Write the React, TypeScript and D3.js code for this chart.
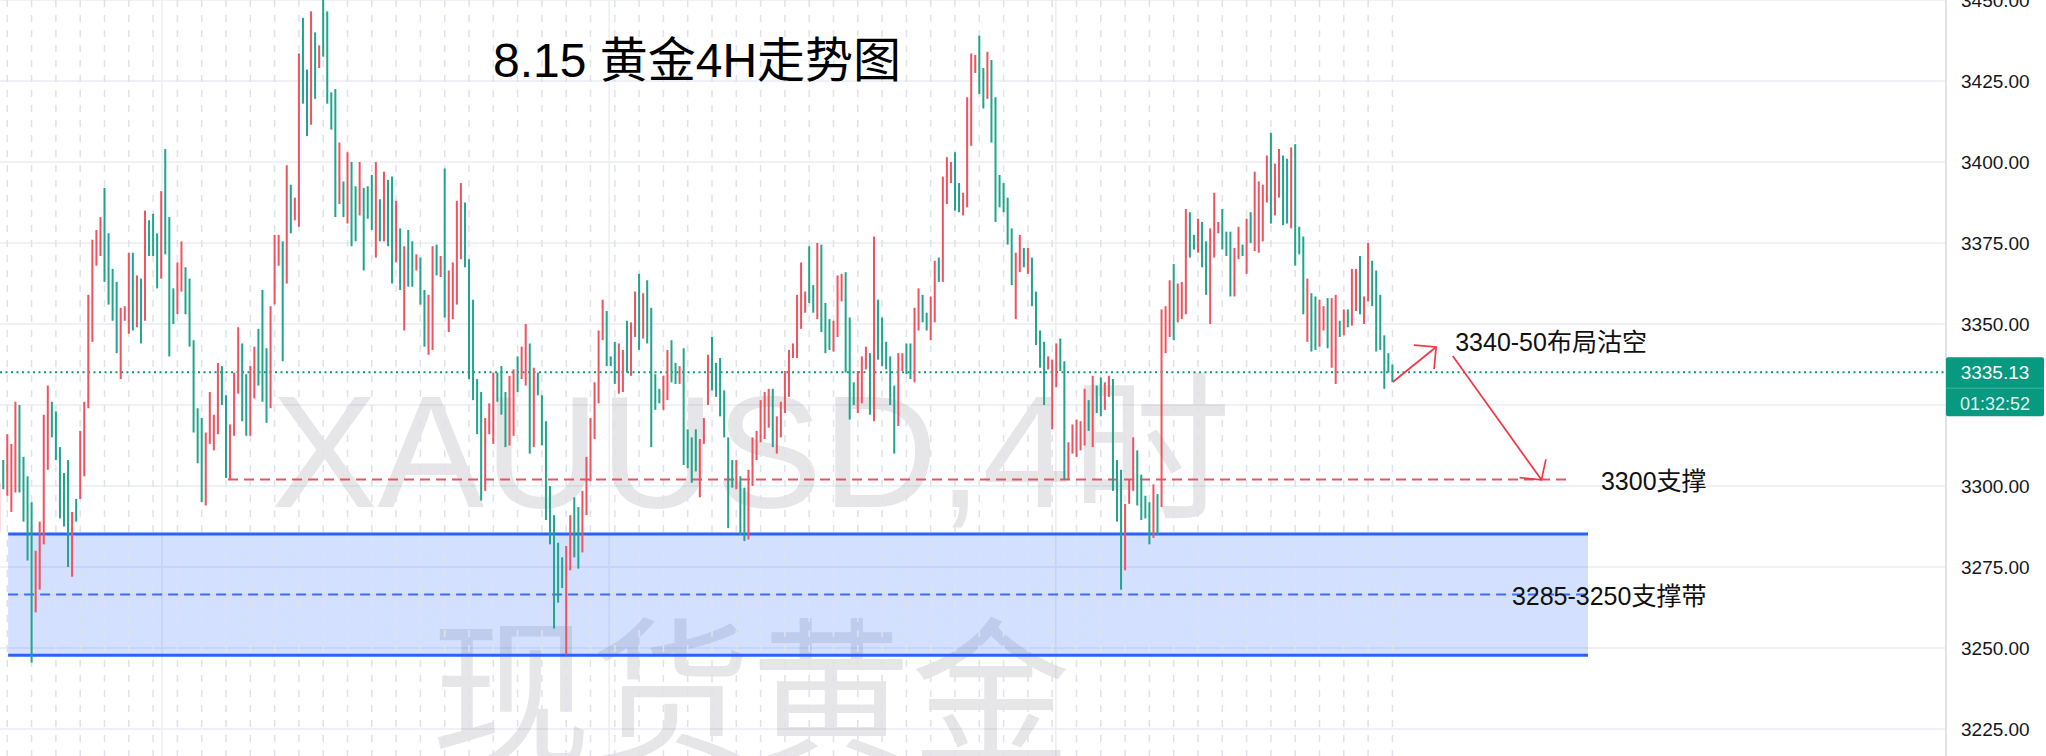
import React from 'react';
import * as d3 from 'd3';

const W = 2046;
const H = 756;
const AXIS_X = 1946;

// ---- candle data (4H bars, oldest -> newest) ----
const highs = [
  3301, 3308, 3316, 3313, 3326, 3325, 3309, 3303, 3295, 3280,
  3289, 3322, 3331, 3326, 3323, 3312, 3304, 3308, 3292, 3296,
  3317, 3326, 3359, 3376, 3379, 3383, 3392, 3378, 3367, 3363,
  3355, 3355.5, 3372, 3372, 3365, 3364, 3385, 3382, 3384, 3378,
  3391, 3404, 3383, 3361, 3369, 3375.5, 3367.5, 3364, 3345, 3324,
  3321, 3316.5, 3329, 3322, 3338, 3337, 3328, 3319, 3335, 3349,
  3344, 3334.5, 3337, 3343, 3348.5, 3360.5, 3342.5, 3355.5, 3377.5, 3377.5,
  3375.5, 3399, 3393, 3389, 3433.5, 3444.5, 3428.5, 3446.5, 3440, 3436,
  3451, 3446.5, 3421.5, 3422.5, 3406, 3394, 3403, 3400, 3392.5, 3400,
  3392, 3392.5, 3396, 3400, 3388.5, 3397, 3394.5, 3395.5, 3388, 3379.5,
  3374, 3379, 3375.5, 3371.5, 3370.5, 3360.5, 3359, 3374, 3374.5, 3371,
  3398, 3366.5, 3369, 3388, 3393.5, 3387.5, 3370, 3357.5, 3333, 3329,
  3321, 3325.5, 3335, 3335, 3337, 3329, 3334, 3336, 3340, 3343,
  3350, 3344, 3336.5, 3335, 3328, 3320, 3300, 3291, 3282.5, 3278,
  3281.5, 3291, 3296.5, 3293.5, 3298.5, 3309, 3321, 3332, 3348, 3357.5,
  3354, 3340, 3344.5, 3344, 3342, 3351, 3350.5, 3360, 3365.5, 3359.5,
  3363.5, 3355, 3334.5, 3330, 3334, 3342, 3345, 3338, 3337, 3342.5,
  3317.5, 3315, 3317.5, 3314.5, 3321, 3340.5, 3346, 3338, 3339.5, 3329.5,
  3315, 3308, 3308, 3303, 3299.5, 3305, 3315, 3317, 3326.5, 3329,
  3330, 3330, 3321.5, 3326, 3335.5, 3342, 3344, 3359, 3369, 3360,
  3374, 3362, 3375, 3374.5, 3356.5, 3351.5, 3351, 3365, 3365.5, 3366,
  3352, 3332, 3335.5, 3340, 3343, 3341, 3377, 3357.5, 3352, 3344.5,
  3340, 3331, 3341, 3341, 3344, 3344, 3355, 3361, 3359, 3353.5,
  3358.5, 3369.5, 3370.5, 3395.5, 3401.5, 3400, 3403, 3393.5, 3390.5, 3420,
  3433.5, 3433, 3439, 3429, 3434, 3431.5, 3420, 3396, 3393.5, 3389,
  3379.5, 3372, 3377.5, 3373.5, 3373.5, 3370.5, 3360, 3348, 3344.5, 3340,
  3339, 3344, 3345.5, 3338.5, 3313.5, 3319, 3320.5, 3320, 3330, 3326.5,
  3334, 3331, 3333.5, 3332, 3334, 3333, 3308, 3305, 3294.5, 3302,
  3315, 3311, 3303.5, 3297, 3295, 3300.5, 3297.5, 3354.5, 3355.5, 3363.5,
  3368.5, 3362.5, 3363, 3385.5, 3384.5, 3377.5, 3382.5, 3381.5, 3375.5, 3379.5,
  3390.5, 3381.5, 3385.5, 3378.5, 3378.5, 3373.5, 3380, 3374.5, 3382.5, 3384.5,
  3397, 3394, 3393, 3402, 3409, 3399.5, 3404, 3402, 3401, 3404.5,
  3405.5, 3380, 3377, 3364, 3359.5, 3358.5, 3357.5, 3355.5, 3358, 3358,
  3359, 3351, 3354.5, 3354.5, 3367, 3367, 3371, 3358.5, 3375, 3369.5,
  3366.5, 3359, 3346.5, 3341, 3337.5,
];

const lows = [
  3286, 3299, 3297, 3292, 3298, 3298, 3289, 3277, 3245.5, 3261,
  3268, 3282, 3305, 3315, 3308, 3290, 3287.5, 3275, 3272, 3289,
  3296, 3303, 3324, 3344.5, 3368, 3371, 3363, 3356, 3351, 3341,
  3333, 3351, 3347, 3348, 3349, 3344, 3351, 3371, 3371, 3361,
  3364, 3371.5, 3340, 3350, 3353, 3360, 3353, 3343, 3316.5, 3307,
  3295, 3294, 3313, 3311, 3316, 3325, 3302.5, 3302, 3315.5, 3328.5,
  3320, 3315.5, 3315.5, 3327, 3331, 3326, 3319.5, 3324, 3356, 3368,
  3338.5, 3362.5, 3378, 3382, 3380, 3418, 3408, 3411.5, 3419.5, 3429,
  3432.5, 3418, 3410, 3383, 3387, 3383, 3381, 3374, 3375.5, 3383.5,
  3366.5, 3382.5, 3379, 3370.5, 3375.5, 3375.5, 3374, 3362.5, 3369, 3360.5,
  3348, 3361.5, 3361.5, 3366.5, 3356, 3343, 3340.5, 3342, 3365, 3364.5,
  3352, 3347.5, 3351.5, 3356, 3370, 3367.5, 3333, 3326.5, 3316, 3295.5,
  3298.5, 3316, 3313, 3326, 3322, 3312, 3312.5, 3315.5, 3329, 3333,
  3331, 3310, 3312, 3328, 3312.5, 3289.5, 3282, 3256, 3264, 3268.5,
  3248, 3274, 3278, 3274.5, 3279.5, 3291, 3301.5, 3314.5, 3325.5, 3345,
  3337, 3337, 3331.5, 3328.5, 3329, 3335, 3334, 3346, 3342, 3345.5,
  3344, 3312, 3323.5, 3325.5, 3323.5, 3326.5, 3332, 3331.5, 3331.5, 3306.5,
  3305.5, 3301, 3304.5, 3296.5, 3313, 3325, 3329.5, 3327.5, 3321.5, 3315,
  3287, 3299.5, 3299, 3285, 3283, 3283.5, 3300, 3308, 3313.5, 3314.5,
  3318, 3312, 3310, 3315, 3322.5, 3327.5, 3339.5, 3339.5, 3348.5, 3353.5,
  3356.5, 3353.5, 3351.5, 3347.5, 3341, 3342, 3341.5, 3346, 3357, 3335,
  3320.5, 3325, 3322.5, 3325.5, 3336, 3322, 3320, 3339, 3337, 3336,
  3325, 3310, 3318.5, 3335.5, 3334.5, 3333, 3332, 3348, 3350.5, 3348,
  3345, 3350.5, 3363, 3363, 3387, 3393.5, 3385, 3384.5, 3383.5, 3386,
  3405, 3427.5, 3421, 3416.5, 3419.5, 3406, 3381.5, 3386, 3384.5, 3374.5,
  3362, 3351.5, 3366, 3367.5, 3365.5, 3355.5, 3343.5, 3336.5, 3325, 3336,
  3317.5, 3330.5, 3335.5, 3302, 3302, 3310, 3309, 3311, 3312.5, 3317,
  3312, 3322.5, 3321.5, 3323.5, 3327.5, 3298.5, 3289, 3268, 3274, 3294.5,
  3298.5, 3294, 3289.5, 3290, 3282, 3284, 3285, 3293.5, 3341, 3346,
  3345, 3350.5, 3351.5, 3353, 3370.5, 3373, 3372, 3367.5, 3359, 3350,
  3370.5, 3378, 3373, 3371, 3358.5, 3358.5, 3370, 3371, 3365.5, 3375,
  3372.5, 3372, 3375.5, 3387.5, 3381, 3383.5, 3389, 3380.5, 3381, 3379.5,
  3368, 3371.5, 3353, 3344.5, 3341.5, 3342, 3343, 3348, 3342.5, 3336.5,
  3331.5, 3346, 3346.5, 3349, 3349.5, 3354, 3353, 3350, 3357, 3355.5,
  3341.5, 3342, 3330, 3335, 3332,
];

// 'u' = rising bar (red), 'd' = falling bar (green)
const directions = [
  'u','d','u','u','u','d','d','d','d','u',
  'u','u','u','d','d','d','d','d','u','d',
  'u','u','u','u','u','u','d','d','d','d',
  'u','u','u','d','u','d','u','d','d','d',
  'u','d','d','d','u','u','d','d','d','d',
  'd','u','u','u','u','d','d','u','u','u',
  'd','d','u','u','d','d','d','u','u','u',
  'd','u','d','u','u','d','d','u','d','u',
  'd','d','d','d','u','d','u','d','d','u',
  'd','d','d','u','d','u','d','d','u','d',
  'u','d','d','u','d','d','u','u','d','u',
  'd','u','u','u','u','d','d','d','d','d',
  'u','u','u','d','d','d','u','u','d','u',
  'u','d','u','d','d','d','d','d','d','d',
  'u','u','d','d','u','u','u','u','u','u',
  'd','d','d','u','u','d','u','u','d','u',
  'd','d','d','d','u','u','d','d','u','d',
  'd','d','d','u','u','u','d','d','d','d',
  'd','d','u','d','d','u','u','u','u','u',
  'u','d','u','u','u','u','u','u','u','u',
  'd','d','u','d','d','d','u','u','u','d',
  'd','d','u','u','u','d','u','d','d','d',
  'd','d','u','u','d','d','u','u','d','d',
  'u','u','d','u','u','u','d','d','u','u',
  'u','u','d','d','u','d','d','d','d','d',
  'd','u','u','d','u','d','d','d','d','u',
  'u','u','d','d','u','u','u','u','u','d',
  'u','d','d','u','u','d','d','d','u','u',
  'u','d','d','d','d','u','d','u','u','u',
  'd','u','u','u','d','d','u','d','d','u',
  'u','u','d','d','d','u','u','d','u','d',
  'u','u','u','u','d','u','u','d','d','u',
  'd','d','d','u','d','d','u','u','d','u',
  'u','d','u','d','u','u','d','u','u','d',
  'd','d','d','d','d',
];

// ---- axis / annotation values ----
const priceTicks = [3450, 3425, 3400, 3375, 3350, 3325, 3300, 3275, 3250, 3225];
const lastPrice = 3335.13;
const countdown = '01:32:52';
const sessionFirstBar = 2;
const barsPerSession = 6;
const timeGridBars = [40.2, 150.6, 260.9];

const supportPrice = 3302;
const supportFromBar = 56.5;
const supportToBar = 388.1;

const zoneTop = 3285.2;
const zoneBottom = 3247.8;
const zoneFromBar = 2.2;
const zoneToBar = 392.3;

const arrowUp = { from: [344.1, 3332.1], to: [354.8, 3342.9], barbs: [[349.3, 3343.5], [354.3, 3336.1]] };
const arrowDown = { from: [358.9, 3340.1], to: [380.8, 3301.9], barbs: [[381.9, 3308.2], [375.4, 3302.6]] };

const notes = [
  { text: '3340-50布局沽空', bar: 359.5, price: 3341.7 },
  { text: '3300支撑', bar: 395.5, price: 3298.8 },
  { text: '3285-3250支撑带', bar: 373.5, price: 3263.3 },
];

const title = '8.15 黄金4H走势图';
const watermark1 = 'XAUUSD,4时';
const watermark2 = '现货黄金';

const UP = '#f0525f';
const DOWN = '#1fa58b';
const TEAL = '#089981';
const RED = '#f23645';
const BLUE = '#2962ff';

export default function App() {
  const n = highs.length;
  const x = d3.scaleLinear().domain([0, n - 1]).range([-0.8, -0.8 + 4.05 * (n - 1)]);
  const y = d3.scaleLinear().domain([3225, 3450]).range([729, 0]);

  const sessionBars: number[] = [];
  for (let i = sessionFirstBar; i < n; i += barsPerSession) sessionBars.push(i);

  const latin = "'Liberation Sans', 'Noto Sans CJK SC', sans-serif";
  const line = d3.line<number[]>().x((d) => x(d[0])).y((d) => y(d[1]));

  const lastY = y(lastPrice);
  const zoneMid = (zoneTop + zoneBottom) / 2;

  return (
    <svg
      width={W}
      height={H}
      viewBox={`0 0 ${W} ${H}`}
      style={{ position: 'fixed', left: 0, top: 0, display: 'block', background: '#fff' }}
    >
      <defs>
        <clipPath id="plot">
          <rect x={0} y={0} width={AXIS_X} height={H} />
        </clipPath>
      </defs>
      <rect x={0} y={0} width={W} height={H} fill="#fff" />
      <g clipPath="url(#plot)">
        {priceTicks.map((p) => (
          <line key={p} x1={0} x2={AXIS_X} y1={y(p)} y2={y(p)} stroke="#eff1f6" strokeWidth={2} />
        ))}
        {timeGridBars.map((b) => (
          <line key={b} x1={x(b)} x2={x(b)} y1={0} y2={H} stroke="#eceef3" strokeWidth={1.5} />
        ))}
        <text x={751} y={507} textAnchor="middle" fontSize={160} fontFamily={latin} fill="rgba(120,123,134,0.19)">
          {watermark1}
        </text>
        <text x={751} y={753} textAnchor="middle" fontSize={160} fontFamily="'Noto Sans CJK SC', sans-serif" fill="rgba(120,123,134,0.19)">
          {watermark2}
        </text>
        <rect
          x={x(zoneFromBar)}
          y={y(zoneTop)}
          width={x(zoneToBar) - x(zoneFromBar)}
          height={y(zoneBottom) - y(zoneTop)}
          fill="rgba(41,98,255,0.2)"
        />
        {sessionBars.map((b) => (
          <line key={b} x1={x(b)} x2={x(b)} y1={0} y2={H} stroke="#dfe2ea" strokeWidth={1.5} strokeDasharray="7 8" />
        ))}
        <line x1={x(zoneFromBar)} x2={x(zoneToBar)} y1={y(zoneTop)} y2={y(zoneTop)} stroke={BLUE} strokeWidth={3} />
        <line x1={x(zoneFromBar)} x2={x(zoneToBar)} y1={y(zoneBottom)} y2={y(zoneBottom)} stroke={BLUE} strokeWidth={3} />
        <line
          x1={x(zoneFromBar)}
          x2={x(zoneToBar)}
          y1={y(zoneMid)}
          y2={y(zoneMid)}
          stroke="#3b6ff5"
          strokeWidth={2}
          strokeDasharray="10 6"
        />
        <line
          x1={x(supportFromBar)}
          x2={x(supportToBar)}
          y1={y(supportPrice)}
          y2={y(supportPrice)}
          stroke="#f0505e"
          strokeWidth={2}
          strokeDasharray="10 6"
        />
        <line x1={0} x2={AXIS_X} y1={lastY} y2={lastY} stroke={TEAL} strokeWidth={2} strokeDasharray="2 3.5" />
        {highs.map((h, i) => {
          const top = y(h);
          const bot = y(lows[i]);
          return (
            <rect
              key={i}
              x={x(i) - 1}
              y={top}
              width={2}
              height={Math.max(1, bot - top)}
              fill={directions[i] === 'u' ? UP : DOWN}
            />
          );
        })}
        {[arrowUp, arrowDown].map((a, k) => (
          <g key={k} stroke={RED} strokeWidth={1.7} fill="none">
            <path d={line([a.from, a.to]) || ''} />
            <path d={line([a.barbs[0], a.to, a.barbs[1]]) || ''} />
          </g>
        ))}
        {notes.map((t) => (
          <text key={t.text} x={x(t.bar)} y={y(t.price)} fontSize={25} fontFamily={latin} fill="#111">
            {t.text}
          </text>
        ))}
        <text x={493} y={77} fontSize={48} fontFamily={latin} fill="#000">
          {title}
        </text>
      </g>
      <rect x={AXIS_X} y={0} width={W - AXIS_X} height={H} fill="#fff" />
      <line x1={AXIS_X} x2={AXIS_X} y1={0} y2={H} stroke="#e0e3eb" strokeWidth={2} />
      {priceTicks
        .filter((p) => Math.abs(y(p) - lastY) > 40)
        .map((p) => (
          <text key={p} x={1961} y={y(p) + 7} fontSize={19} fontFamily={latin} fill="#131722">
            {d3.format('.2f')(p)}
          </text>
        ))}
      <rect x={AXIS_X} y={lastY - 15} width={98} height={59} fill={TEAL} rx={2} />
      <line x1={AXIS_X} x2={AXIS_X + 98} y1={lastY + 16} y2={lastY + 16} stroke="rgba(255,255,255,0.25)" strokeWidth={1} />
      <text x={1995} y={lastY + 7} textAnchor="middle" fontSize={19} fontFamily={latin} fill="#fff">
        {d3.format('.2f')(lastPrice)}
      </text>
      <text x={1995} y={lastY + 38} textAnchor="middle" fontSize={18} fontFamily={latin} fill="rgba(255,255,255,0.88)">
        {countdown}
      </text>
    </svg>
  );
}
